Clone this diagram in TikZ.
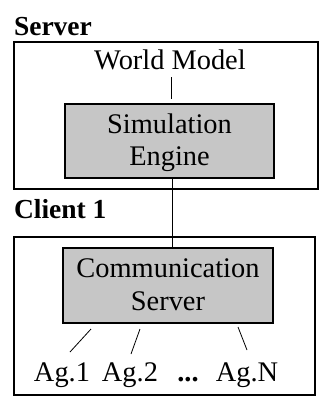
\documentclass[tikz,border=0pt]{standalone}
\usepackage{fontspec}
\setmainfont{Liberation Serif}
\begin{document}
\begin{tikzpicture}[x=1pt,y=-1pt,
  every node/.style={inner sep=0pt, outer sep=0pt, font=\fontsize{28.4}{32}\selectfont},
  frame/.style={draw=black, line width=1.3pt, rectangle},
  graybox/.style={draw=black, line width=1.3pt, fill=gray!45, rectangle, align=center},
  link/.style={draw=black, line width=0.8pt}]
\useasboundingbox (0,0) rectangle (326,405);
% Server
\node[anchor=base west, font=\fontsize{27.5}{30}\selectfont\bfseries] (srvlbl) at (14,35) {Server};
\node[frame, minimum width=304pt, minimum height=147pt] (srvbox) at (166,115.5) {};
\node[anchor=base] (wm) at (170,69) {World Model};
\node[graybox, minimum width=209pt, minimum height=74pt] (sim) at (169.5,141) {};
\node[anchor=base] (simt1) at (169.5,133) {Simulation};
\node[anchor=base] (simt2) at (169.5,165) {Engine};
% Client
\node[anchor=base west, font=\fontsize{27.5}{30}\selectfont\bfseries] (clilbl) at (14,218) {Client 1};
\node[frame, minimum width=301pt, minimum height=158pt] (clibox) at (164.5,316) {};
\node[graybox, minimum width=210pt, minimum height=75pt] (comm) at (168,285.5) {};
\node[anchor=base] (commt1) at (168,277) {Communication};
\node[anchor=base] (commt2) at (168,310) {Server};
\node[anchor=base] (ag1) at (62,381) {Ag.1};
\node[anchor=base] (ag2) at (130,381) {Ag.2};
\node[anchor=base, font=\fontsize{28.4}{32}\selectfont\bfseries] (dots) at (188,381) {...};
\node[anchor=base] (agn) at (247,381) {Ag.N};
% connectors
\coordinate (wmb) at (171,77);
\coordinate (simtop) at (171,99);
\draw[link] (wmb) -- (simtop);
\draw[link] (sim.south -| 172,0) -- (comm.north -| 172,0);
\coordinate (a1s) at (91,329); \coordinate (a1e) at (70,352);
\coordinate (a2s) at (140,329); \coordinate (a2e) at (131,354);
\coordinate (ans) at (238,327); \coordinate (ane) at (247,350);
\draw[link] (a1s) -- (a1e);
\draw[link] (a2s) -- (a2e);
\draw[link] (ans) -- (ane);
\end{tikzpicture}
\end{document}
